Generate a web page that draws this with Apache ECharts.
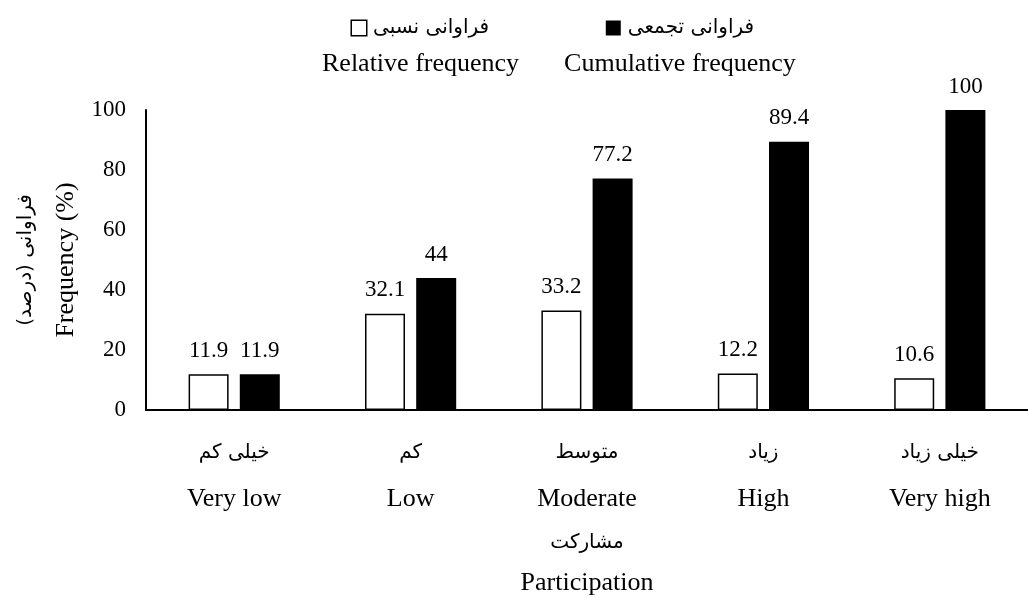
<!DOCTYPE html>
<html>
<head>
<meta charset="utf-8">
<script src="https://cdn.jsdelivr.net/npm/echarts@6/dist/echarts.min.js"></script>
<style>html,body{margin:0;padding:0;background:#fff}#c{width:1028px;height:604px}</style>
</head>
<body>
<div id="c"></div>
<script>
const categoriesEn = ['Very low', 'Low', 'Moderate', 'High', 'Very high'];
const categoriesFa = ['خیلی کم', 'کم', 'متوسط', 'زیاد', 'خیلی زیاد'];
const relativeFrequency = [11.9, 32.1, 33.2, 12.2, 10.6];
const cumulativeFrequency = [11.9, 44, 77.2, 89.4, 100];
const yTicks = [0, 20, 40, 60, 80, 100];
const seriesNames = ['Relative frequency', 'Cumulative frequency'];
const seriesNamesFa = ['فراوانی نسبی', 'فراوانی تجمعی'];
const xTitleFa = 'مشارکت', xTitleEn = 'Participation';
const yTitleFa = '\u200Fفراوانی (درصد)\u200F', yTitleEn = 'Frequency (%)';

const SERIF = "'Liberation Serif', 'Times New Roman', serif";
const FA = "'DejaVu Sans', sans-serif";

const chart = echarts.init(document.getElementById('c'), null, {renderer: 'canvas'});
chart.setOption({
  backgroundColor: '#fff',
  animation: false,
  legend: {
    top: 18, left: 316, padding: 0, itemGap: 40,
    itemWidth: 0, itemHeight: 0, icon: 'rect',
    data: seriesNames,
    formatter: name => {
      const i = seriesNames.indexOf(name);
      const sq = i === 0 ? 'sqW' : 'sqB';
      return `{${sq}|}{sp|}{fa|${seriesNamesFa[i]}}\n{en|${name}}`;
    },
    textStyle: {
      rich: {
        sqW: {width: 14, height: 14, backgroundColor: '#fff', borderColor: '#000', borderWidth: 1.5, align: 'center', lineHeight: 36},
        sqB: {width: 15, height: 15, backgroundColor: '#000', align: 'center', lineHeight: 36},
        sp: {width: 7, align: 'center', lineHeight: 36},
        fa: {fontFamily: FA, fontSize: 20, color: '#000', align: 'center', lineHeight: 36},
        en: {fontFamily: SERIF, fontSize: 26, color: '#000', align: 'center', lineHeight: 36}
      }
    }
  },
  grid: {left: 146, right: -13, top: 110, bottom: 194, containLabel: false},
  xAxis: {
    type: 'category',
    data: categoriesEn,
    axisLine: {lineStyle: {color: '#000', width: 2}},
    axisTick: {show: false},
    axisLabel: {
      margin: 20, interval: 0,
      formatter: (v, i) => `{fa|${categoriesFa[i]}}\n{en|${v}}`,
      rich: {
        fa: {fontFamily: FA, fontSize: 20, color: '#000', lineHeight: 46},
        en: {fontFamily: SERIF, fontSize: 26, color: '#000', lineHeight: 46}
      }
    },
    name: `{fa|${xTitleFa}}\n{en|${xTitleEn}}`,
    nameLocation: 'middle', nameGap: 113,
    nameTextStyle: {
      rich: {
        fa: {fontFamily: FA, fontSize: 20, color: '#000', lineHeight: 40},
        en: {fontFamily: SERIF, fontSize: 26, color: '#000', lineHeight: 40}
      }
    }
  },
  yAxis: {
    type: 'value', min: yTicks[0], max: yTicks[yTicks.length - 1], interval: yTicks[1] - yTicks[0],
    axisLine: {show: true, lineStyle: {color: '#000', width: 2}},
    axisTick: {show: false},
    splitLine: {show: false},
    axisLabel: {margin: 20, fontFamily: SERIF, fontSize: 23, color: '#000'},
    name: `{fa|${yTitleFa}}\n{en|${yTitleEn}}`,
    nameLocation: 'middle', nameRotate: 90, nameGap: 60,
    nameTextStyle: {
      rich: {
        fa: {fontFamily: FA, fontSize: 20, color: '#000', lineHeight: 40},
        en: {fontFamily: SERIF, fontSize: 26, color: '#000', lineHeight: 40}
      }
    }
  },
  series: [
    {
      name: seriesNames[0], type: 'bar', data: relativeFrequency,
      barWidth: 40, barGap: '28%',
      itemStyle: {color: '#fff', borderColor: '#000', borderWidth: 1.5},
      label: {show: true, position: 'top', distance: 12, fontFamily: SERIF, fontSize: 23, color: '#000'}
    },
    {
      name: seriesNames[1], type: 'bar', data: cumulativeFrequency,
      barWidth: 40, barGap: '28%',
      itemStyle: {color: '#000'},
      label: {show: true, position: 'top', distance: 12, fontFamily: SERIF, fontSize: 23, color: '#000'}
    }
  ]
});
</script>
</body>
</html>
